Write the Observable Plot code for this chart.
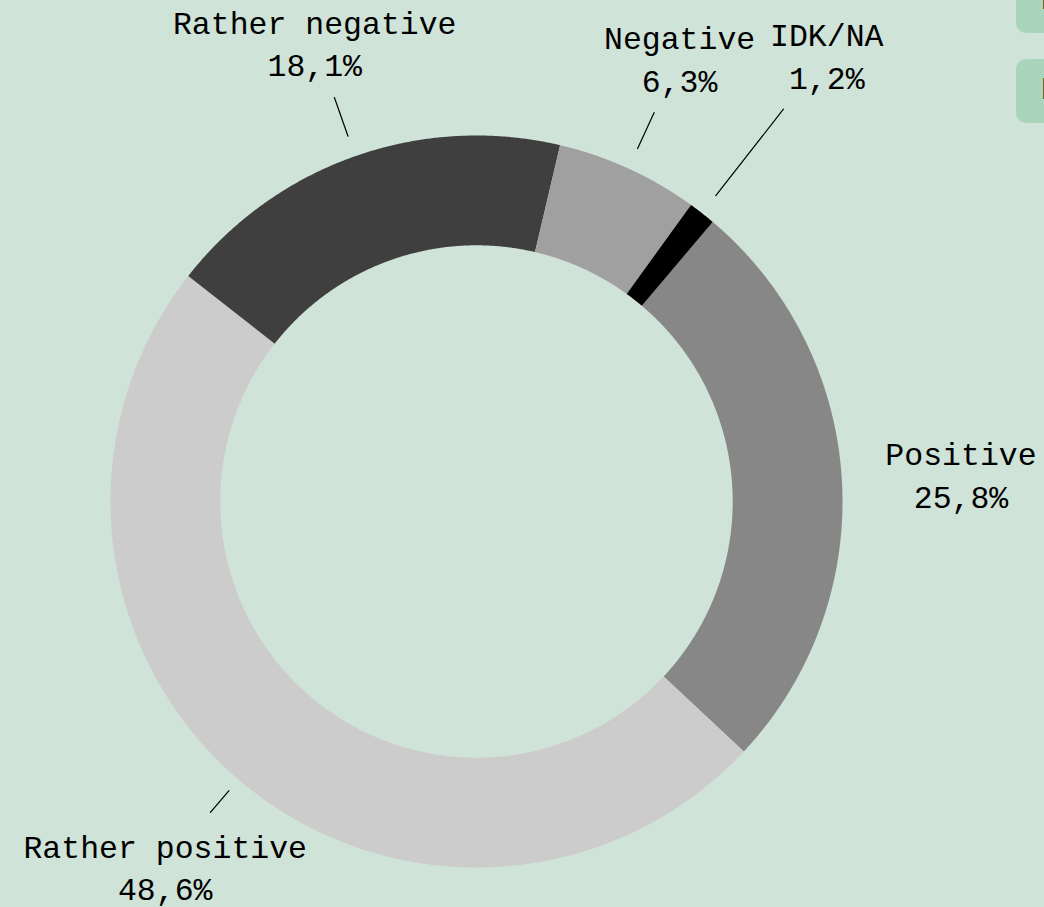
<!DOCTYPE html>
<html>
<head>
<meta charset="utf-8">
<script src="https://cdn.jsdelivr.net/npm/d3@7"></script>
<script src="https://cdn.jsdelivr.net/npm/@observablehq/plot@0.6"></script>
<style>
  html, body { margin: 0; padding: 0; background: #cfe3d8; overflow: hidden; }
  #wrap { position: relative; width: 1044px; height: 907px; overflow: hidden; background: #cfe3d8; }
  .btn { position: absolute; left: 1016px; width: 140px; height: 64px; background: #a9d5bc;
         border-radius: 10px; font: 31px "Liberation Mono", monospace; color: #000;
         line-height: 64px; padding-left: 25px; box-sizing: border-box; white-space: nowrap; }
</style>
</head>
<body>
<div id="wrap">
  <div id="chart"></div>
  <div class="btn" style="top:-31px">PNG</div>
  <div class="btn" style="top:59px">PDF</div>
</div>
<script>
// ---- data ----
const categories = ["Positive", "Rather positive", "Rather negative", "Negative", "IDK/NA"];
const shares = [25.8, 48.6, 18.1, 6.3, 1.2];
const colors = ["#878787", "#cccccc", "#3f3f3f", "#a0a0a0", "#000000"];

// ---- layout ----
const W = 1044, H = 907;
const cx = 476, cy = 501, R = 366;      // pixel centre and outer radius
const innerRatio = 0.70;
const startAngle = 40.2;                // degrees clockwise from north
const labelRadius = [1.326, 1.308, 1.332, 1.336, 1.553];
const leaderStart = [null, 1.04, 1.058, 1.06, 1.061];
const leaderEnd = [null, 1.118, 1.17, 1.168, 1.361];

const rad = d => d * Math.PI / 180;
const pt = (deg, r) => [r * Math.sin(rad(deg)), -r * Math.cos(rad(deg))];
const total = d3.sum(shares);

let acc = startAngle;
const slices = categories.map((c, i) => {
  const a0 = acc, a1 = acc + shares[i] / total * 360;
  acc = a1;
  return {cat: c, value: shares[i], a0, a1, mid: (a0 + a1) / 2, i};
});

function ring(a0, a1, r0, r1) {
  const n = Math.max(2, Math.ceil((a1 - a0) / 0.25));
  const pts = [];
  for (let k = 0; k <= n; k++) pts.push(pt(a0 + (a1 - a0) * k / n, r1));
  for (let k = n; k >= 0; k--) pts.push(pt(a0 + (a1 - a0) * k / n, r0));
  pts.push(pts[0]);
  return pts;
}

const arcFeatures = slices.map(s => ({
  type: "Feature",
  properties: {cat: s.cat},
  geometry: {type: "Polygon", coordinates: [ring(s.a0, s.a1, innerRatio, 1)]}
}));

const leaderFeatures = slices.filter(s => leaderEnd[s.i] != null).map(s => ({
  type: "Feature",
  properties: {cat: s.cat},
  geometry: {type: "LineString", coordinates: [pt(s.mid, leaderStart[s.i]), pt(s.mid, leaderEnd[s.i])]}
}));

const fmt = v => v.toFixed(1).replace(".", ",") + "%";
const labels = slices.map(s => {
  const [x, y] = pt(s.mid, labelRadius[s.i]);
  return {x, y, text: s.cat + "\n" + fmt(s.value)};
});

const domain = {type: "MultiPoint", coordinates: [[-cx / R, -cy / R], [(W - cx) / R, (H - cy) / R]]};

const chart = Plot.plot({
  width: W,
  height: H,
  margin: 0,
  projection: {type: "identity", domain},
  color: {domain: categories, range: colors},
  style: {background: "transparent", fontFamily: "'Liberation Mono', monospace"},
  marks: [
    Plot.geo(arcFeatures, {fill: d => d.properties.cat, stroke: "none"}),
    Plot.geo(leaderFeatures, {stroke: "#000", strokeWidth: 1.2}),
    Plot.text(labels, {
      x: "x", y: "y", text: "text",
      fontSize: 31.5, lineHeight: 1.35, fill: "#000",
      fontFamily: "'Liberation Mono', monospace"
    })
  ]
});
document.getElementById("chart").appendChild(chart);
</script>
</body>
</html>
